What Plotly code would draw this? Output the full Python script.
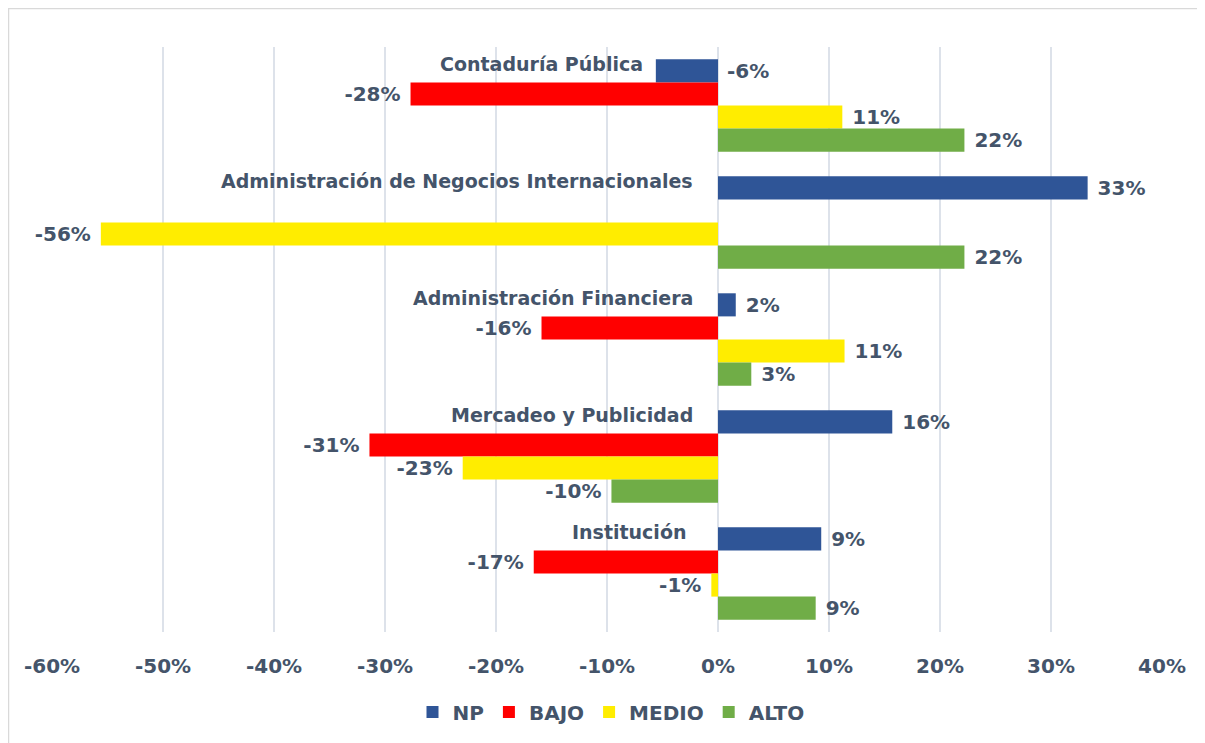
import plotly.graph_objects as go

categories = ["Contaduría Pública", "Administración de Negocios Internacionales",
              "Administración Financiera", "Mercadeo y Publicidad", "Institución"]
series_names = ["NP", "BAJO", "MEDIO", "ALTO"]
np_vals = [-0.056, 0.333, 0.016, 0.157, 0.093]
bajo_vals = [-0.277, None, -0.159, -0.314, -0.166]
medio_vals = [0.112, -0.556, 0.114, -0.23, -0.006]
alto_vals = [0.222, 0.222, 0.030, -0.096, 0.088]
tick_vals = [-0.6, -0.5, -0.4, -0.3, -0.2, -0.1, 0, 0.1, 0.2, 0.3, 0.4]
tick_text = ["-60%", "-50%", "-40%", "-30%", "-20%", "-10%", "0%", "10%", "20%", "30%", "40%"]

colors = ["#2F5597", "#FF0000", "#FFED00", "#70AD47"]
TXT = "#44546A"
FONT = "DejaVu Sans"
NB = "\u00a0"


def fmt(v):
    if v is None:
        return ""
    s = f"{v:.0%}"
    return (s + NB) if v < 0 else (NB + s)


fig = go.Figure()
all_vals = [np_vals, bajo_vals, medio_vals, alto_vals]
for name, vals, col in zip(series_names, all_vals, colors):
    tpos = ["outside"] * len(vals)
    if name == "NP":
        tpos[0] = "none"  # label moved manually beside the axis
    fig.add_trace(go.Bar(
        y=categories, x=vals, name=name, orientation="h",
        marker=dict(color=col, line=dict(width=0)),
        text=[fmt(v) for v in vals], textposition=tpos,
        textfont=dict(family=FONT, size=20, color=TXT, weight="bold"),
        constraintext="none", cliponaxis=False,
        hoverinfo="x+y+name",
    ))

annotations = []
label_shift = [-73, -23, -23, -23, -30]
for cat, xs in zip(categories, label_shift):
    annotations.append(dict(
        x=0, y=cat, xref="x", yref="y", text=cat, showarrow=False,
        xanchor="right", yanchor="middle", xshift=xs, yshift=42,
        font=dict(family=FONT, size=19, color=TXT, weight="bold"),
    ))
# NP label for Contaduría placed on the right of the axis
annotations.append(dict(
    x=0, y=categories[0], xref="x", yref="y", text=f"{np_vals[0]:.0%}", showarrow=False,
    xanchor="left", yanchor="middle", xshift=7, yshift=34.5,
    font=dict(family=FONT, size=20, color=TXT, weight="bold"),
))

OFF = 8  # page body margin
W, H = 1205 - OFF, 743 - OFF
L, R, T, B = 52 - OFF, 1162 - OFF, 47 - OFF, 632 - OFF
pw, ph = R - L, B - T

fig.update_layout(
    width=W, height=H,
    margin=dict(l=L, r=W - R, t=T, b=H - B),
    paper_bgcolor="white", plot_bgcolor="white",
    barmode="group", bargap=0.21, bargroupgap=0,
    showlegend=True,
    legend=dict(orientation="h", x=(611 - OFF - L) / pw, xanchor="center",
                y=(B - (712 - OFF)) / ph, yanchor="middle",
                font=dict(family=FONT, size=20, color=TXT, weight="bold"),
                traceorder="normal", itemwidth=30),
    xaxis=dict(range=[-0.6, 0.4], tickvals=tick_vals, ticktext=tick_text,
               showgrid=True, gridcolor="#DDE2EA", gridwidth=1.5,
               zeroline=False, showline=False, ticks="",
               ticklabelstandoff=20,
               tickfont=dict(family=FONT, size=20, color=TXT, weight="bold")),
    yaxis=dict(type="category", categoryorder="array", categoryarray=categories,
               range=[4.5, -0.5], showticklabels=False, showgrid=False,
               zeroline=False, showline=False, ticks=""),
    annotations=annotations,
    shapes=[dict(type="rect", xref="paper", yref="paper",
                 x0=(0.5 - L) / pw, x1=(W + 5 - L) / pw,
                 y0=(B - H - 5) / ph, y1=(B - 0.5) / ph,
                 line=dict(color="#D9D9D9", width=1.5), layer="below")],
)

fig.write_html("out.html")
